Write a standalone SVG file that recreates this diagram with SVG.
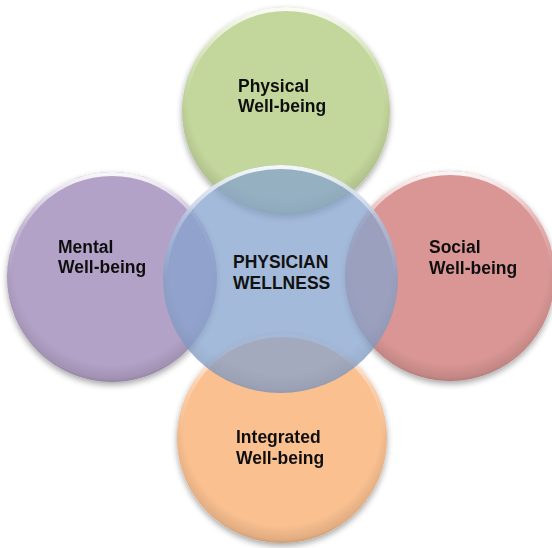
<svg xmlns="http://www.w3.org/2000/svg" width="552" height="548" viewBox="0 0 552 548">
  <style>
    .label { font-family: "Liberation Sans", Arial, sans-serif; font-weight: bold; font-size: 17.5px; fill: #111; }
    .rimLight { fill: none; stroke: url(#topGlow); stroke-width: 4; }
    .rimDark { fill: url(#edgeShade); }
  </style>
  <defs>
    <filter id="drop" x="-20%" y="-20%" width="140%" height="140%">
      <feGaussianBlur in="SourceAlpha" stdDeviation="3"/>
      <feOffset dx="0" dy="3" result="b"/>
      <feComponentTransfer><feFuncA type="linear" slope="0.35"/></feComponentTransfer>
      <feMerge><feMergeNode/><feMergeNode in="SourceGraphic"/></feMerge>
    </filter>
    <!-- soft darkening toward the rim of each disc -->
    <radialGradient id="edgeShade" cx="0.5" cy="0.45" r="0.55">
      <stop offset="0.85" stop-color="#000" stop-opacity="0"/>
      <stop offset="0.97" stop-color="#000" stop-opacity="0.10"/>
      <stop offset="1" stop-color="#000" stop-opacity="0.18"/>
    </radialGradient>
    <!-- bright bevel along the upper edge -->
    <linearGradient id="topGlow" x1="0" y1="0" x2="0" y2="1">
      <stop offset="0" stop-color="#fff" stop-opacity="0.9"/>
      <stop offset="0.25" stop-color="#fff" stop-opacity="0.25"/>
      <stop offset="0.5" stop-color="#fff" stop-opacity="0"/>
    </linearGradient>
  </defs>

  <g id="physical" filter="url(#drop)">
    <circle cx="286" cy="111" r="104" fill="#c3d69b"/>
    <circle cx="286" cy="111" r="104" class="rimDark"/>
    <circle cx="286" cy="111" r="102" class="rimLight"/>
    <text class="label" x="238" y="92">Physical</text>
    <text class="label" x="238" y="112">Well-being</text>
  </g>

  <g id="mental" filter="url(#drop)">
    <circle cx="112" cy="277" r="105" fill="#b3a2c7"/>
    <circle cx="112" cy="277" r="105" class="rimDark"/>
    <circle cx="112" cy="277" r="103" class="rimLight"/>
    <text class="label" x="58" y="253">Mental</text>
    <text class="label" x="58" y="273">Well-being</text>
  </g>

  <g id="social" filter="url(#drop)">
    <circle cx="450" cy="276" r="105" fill="#d99694"/>
    <circle cx="450" cy="276" r="105" class="rimDark"/>
    <circle cx="450" cy="276" r="103" class="rimLight"/>
    <text class="label" x="429" y="253">Social</text>
    <text class="label" x="429" y="274">Well-being</text>
  </g>

  <g id="integrated" filter="url(#drop)">
    <circle cx="282" cy="438" r="105" fill="#fac090"/>
    <circle cx="282" cy="438" r="105" class="rimDark"/>
    <circle cx="282" cy="438" r="103" class="rimLight"/>
    <text class="label" x="236" y="443">Integrated</text>
    <text class="label" x="236" y="464">Well-being</text>
  </g>

  <!-- translucent central disc laid over the four outer discs -->
  <g id="physician-wellness">
    <ellipse cx="280.5" cy="279" rx="117.5" ry="114" fill="#86a3cd" fill-opacity="0.75"/>
    <ellipse cx="280.5" cy="279" rx="117.5" ry="114" fill="url(#edgeShade)" fill-opacity="0.5"/>
    <ellipse cx="280.5" cy="279" rx="115.5" ry="112" class="rimLight"/>
    <text class="label" x="233" y="268">PHYSICIAN</text>
    <text class="label" x="233" y="289">WELLNESS</text>
  </g>

  <g id="connectors"/>
</svg>
